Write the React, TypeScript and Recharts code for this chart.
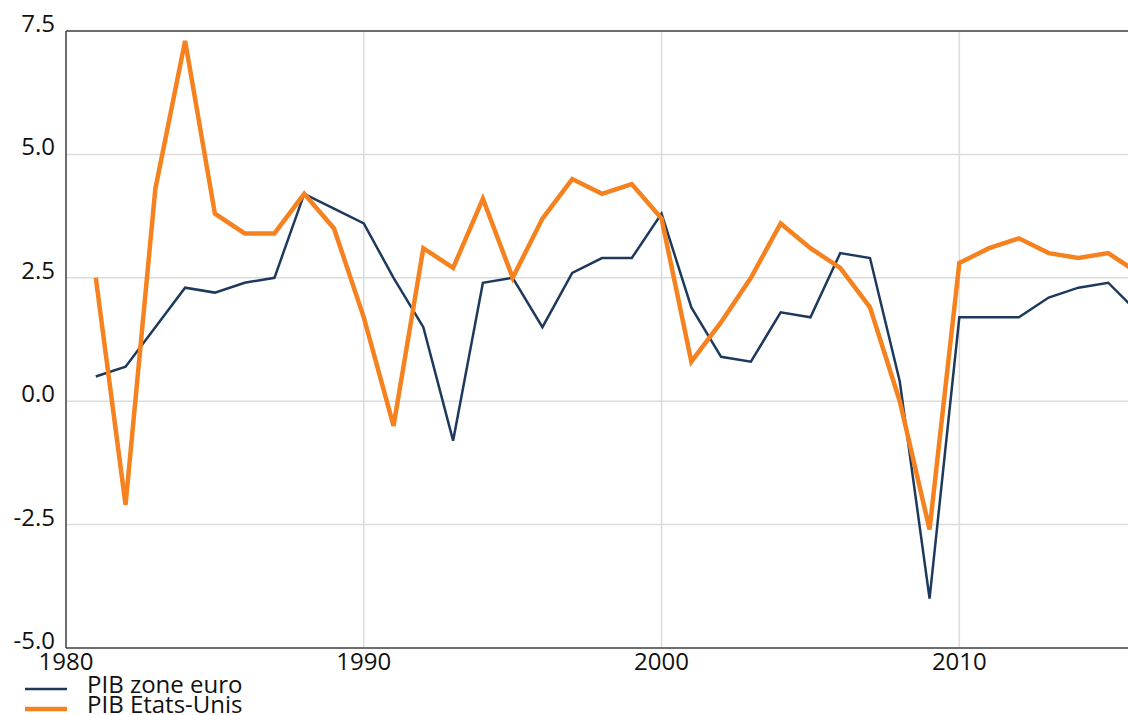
import {
  LineChart,
  Line,
  XAxis,
  YAxis,
  CartesianGrid,
  ReferenceLine,
  Legend,
} from "recharts";

const years = [
  1981, 1982, 1983, 1984, 1985, 1986, 1987, 1988, 1989, 1990, 1991, 1992,
  1993, 1994, 1995, 1996, 1997, 1998, 1999, 2000, 2001, 2002, 2003, 2004,
  2005, 2006, 2007, 2008, 2009, 2010, 2011, 2012, 2013, 2014, 2015, 2016,
];

const zoneEuro = [
  0.5, 0.7, 1.5, 2.3, 2.2, 2.4, 2.5, 4.2, 3.9, 3.6, 2.5, 1.5,
  -0.8, 2.4, 2.5, 1.5, 2.6, 2.9, 2.9, 3.8, 1.9, 0.9, 0.8, 1.8,
  1.7, 3.0, 2.9, 0.4, -4.0, 1.7, 1.7, 1.7, 2.1, 2.3, 2.4, 1.8,
];

const etatsUnis = [
  2.5, -2.1, 4.3, 7.3, 3.8, 3.4, 3.4, 4.2, 3.5, 1.7, -0.5, 3.1,
  2.7, 4.1, 2.5, 3.7, 4.5, 4.2, 4.4, 3.7, 0.8, 1.6, 2.5, 3.6,
  3.1, 2.7, 1.9, 0.0, -2.6, 2.8, 3.1, 3.3, 3.0, 2.9, 3.0, 2.6,
];

const xTicks = [1980, 1990, 2000, 2010];
const yTicks = [-5, -2.5, 0, 2.5, 5, 7.5];

const seriesNames = ["PIB zone euro", "PIB Etats-Unis"];
const NAVY = "#1d3a5c";
const ORANGE = "#f5821f";
const FONT = "'Open Sans', sans-serif";

const data = years.map((y, i) => ({
  year: y,
  euro: zoneEuro[i],
  us: etatsUnis[i],
}));

const YTick = (props: any) => {
  const { x, y, payload } = props;
  return (
    <text x={x - 3} y={y + 1} textAnchor="end" fontSize={24} fill="#111" fontFamily={FONT}>
      {payload.value.toFixed(1)}
    </text>
  );
};

const XTick = (props: any) => {
  const { x, y, payload } = props;
  return (
    <text x={x} y={y + 14} textAnchor="middle" fontSize={24} fill="#111" fontFamily={FONT}>
      {payload.value}
    </text>
  );
};

const LegendBox = () => (
  <svg width={300} height={45} overflow="visible" style={{ display: "block", overflow: "visible" }}>
    <line x1={25} x2={67} y1={19} y2={19} stroke={NAVY} strokeWidth={2.5} />
    <text x={87} y={23} fontSize={24} fill="#111" fontFamily={FONT}>
      {seriesNames[0]}
    </text>
    <line x1={25} x2={67} y1={39} y2={39} stroke={ORANGE} strokeWidth={4.5} />
    <text x={87} y={43} fontSize={24} fill="#111" fontFamily={FONT}>
      {seriesNames[1]}
    </text>
  </svg>
);

export default function App() {
  return (
    <div
      style={{
        position: "fixed",
        left: 0,
        top: 0,
        width: 1128,
        height: 715,
        overflow: "hidden",
        background: "#fff",
      }}
    >
      <LineChart
        width={1140}
        height={715}
        data={data}
        margin={{ top: 31, right: 2, left: 0, bottom: 0 }}
      >
        <CartesianGrid stroke="#dcdcdc" strokeWidth={1.5} />
        <XAxis
          dataKey="year"
          type="number"
          domain={[1980, 2016]}
          ticks={xTicks}
          tick={<XTick />}
          tickLine={false}
          height={67}
          stroke="#444"
          strokeWidth={1.5}
        />
        <YAxis
          type="number"
          domain={[-5, 7.5]}
          ticks={yTicks}
          tick={<YTick />}
          tickLine={false}
          width={66}
          stroke="#444"
          strokeWidth={1.5}
        />
        <ReferenceLine y={7.5} stroke="#444" strokeWidth={1.5} />
        <Line
          dataKey="euro"
          name={seriesNames[0]}
          stroke={NAVY}
          strokeWidth={2.5}
          dot={false}
          isAnimationActive={false}
        />
        <Line
          dataKey="us"
          name={seriesNames[1]}
          stroke={ORANGE}
          strokeWidth={4.5}
          dot={false}
          isAnimationActive={false}
        />
        <Legend
          layout="vertical"
          align="center"
          verticalAlign="middle"
          content={<LegendBox />}
          wrapperStyle={{ left: 0, top: 670, width: 300, height: 45, overflow: "visible" }}
        />
      </LineChart>
    </div>
  );
}
